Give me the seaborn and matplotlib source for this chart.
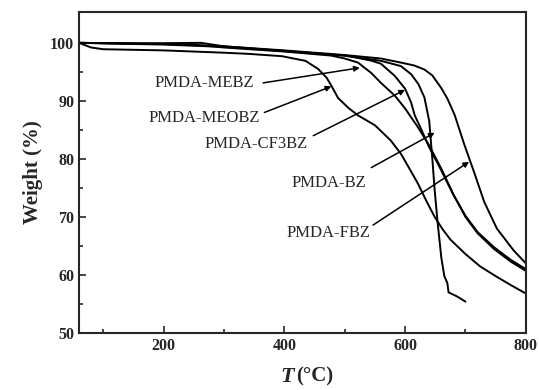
import pandas as pd
import matplotlib
matplotlib.use("Agg")
import matplotlib.pyplot as plt
import seaborn as sns

# Courbes TGA (T en °C, masse en %)
t_meobz = [60, 80, 100, 200, 300, 341, 396, 435, 456, 470, 478, 489, 506, 522, 550, 576, 593, 609, 621, 636, 649, 662, 675, 700, 724, 750, 776, 800]
w_meobz = [100, 99.2, 98.9, 98.7, 98.3, 98.1, 97.7, 96.9, 95.5, 94.0, 92.6, 90.5, 88.8, 87.5, 85.8, 83.2, 80.9, 78.0, 75.8, 72.6, 70.0, 67.9, 66.1, 63.6, 61.5, 59.8, 58.2, 56.8]

t_mebz = [60, 150, 250, 300, 400, 478, 500, 522, 544, 560, 583, 600, 621, 640, 660, 680, 700, 720, 747, 775, 800]
w_mebz = [100, 99.9, 99.7, 99.2, 98.5, 97.8, 97.3, 96.6, 94.8, 93.1, 90.9, 88.7, 85.5, 82.3, 78.3, 73.9, 70.0, 67.2, 64.5, 62.3, 60.7]

t_cf3bz = [60, 150, 262, 300, 400, 500, 522, 545, 560, 583, 600, 610, 616, 625, 640, 660, 680, 700, 720, 747, 775, 800]
w_cf3bz = [100, 99.9, 100.0, 99.4, 98.6, 97.8, 97.4, 96.9, 96.4, 94.3, 92.1, 89.7, 87.5, 85.5, 82.0, 78.0, 73.8, 70.2, 67.4, 64.8, 62.6, 61.0]

t_bz = [60, 200, 300, 400, 500, 560, 593, 610, 622, 632, 640, 645, 649, 654, 660, 665, 670, 672, 686, 700]
w_bz = [100, 99.7, 99.3, 98.6, 97.8, 96.9, 96.0, 94.6, 92.9, 90.6, 86.5, 80.2, 74.6, 68.9, 63.0, 59.8, 58.6, 57.0, 56.3, 55.4]

t_fbz = [60, 200, 300, 400, 500, 560, 593, 615, 632, 645, 660, 670, 682, 698, 715, 731, 752, 780, 800]
w_fbz = [100, 99.8, 99.4, 98.7, 97.9, 97.3, 96.6, 96.1, 95.4, 94.4, 92.2, 90.4, 87.6, 82.5, 77.5, 72.6, 68.0, 64.2, 62.0]

echantillons = ["PMDA-MEOBZ", "PMDA-MEBZ", "PMDA-CF3BZ", "PMDA-BZ", "PMDA-FBZ"]
temps = [t_meobz, t_mebz, t_cf3bz, t_bz, t_fbz]
masses = [w_meobz, w_mebz, w_cf3bz, w_bz, w_fbz]

# position des étiquettes, départ et pointe des flèches (coordonnées des données)
pos_texte = [(267, 87.1), (267, 93.1), (353, 82.6), (473, 75.9), (473, 67.2)]
depart_fleche = [(367, 88.0), (365, 93.1), (448, 84.0), (544, 78.5), (547, 68.6)]
pointe_fleche = [(478, 92.5), (525, 95.7), (600, 91.9), (649, 84.5), (706, 79.5)]

df = pd.concat([pd.DataFrame({"T": t, "W": w, "echantillon": nom})
                for nom, t, w in zip(echantillons, temps, masses)])

sns.set_style("ticks")
plt.rcParams["font.family"] = ["Liberation Serif", "DejaVu Serif"]

fig = plt.figure(figsize=(5.39, 3.90), dpi=100)
ax = fig.add_axes([0.1466, 0.1462, 0.8290, 0.8228])

sns.lineplot(data=df, x="T", y="W", hue="echantillon", palette=["black"] * 5,
             estimator=None, sort=False, legend=False, linewidth=1.4, ax=ax)
for ln in ax.get_lines():
    ln.set_solid_joinstyle("round")

for nom, (tx, ty), (sx, sy), (px, py) in zip(echantillons, pos_texte, depart_fleche, pointe_fleche):
    ax.text(tx, ty, nom, ha="center", va="center", fontsize=12)
    ax.annotate("", xy=(px, py), xytext=(sx, sy),
                arrowprops=dict(arrowstyle="-|>", color="black", lw=1.1,
                                mutation_scale=8, shrinkA=0, shrinkB=0))

ax.set_xlim(60, 800)
ax.set_ylim(50, 105.3)
ax.set_xticks([200, 400, 600, 800])
ax.set_xticks([100, 300, 500, 700], minor=True)
ax.set_yticks([50, 60, 70, 80, 90, 100])
ax.set_yticks([55, 65, 75, 85, 95], minor=True)
ax.tick_params(which="both", direction="in", width=1.2)
ax.tick_params(which="major", length=5, labelsize=11.5)
ax.tick_params(which="minor", length=3)
for lab in ax.get_xticklabels() + ax.get_yticklabels():
    lab.set_fontweight("bold")
for sp in ax.spines.values():
    sp.set_linewidth(1.5)
    sp.set_visible(True)

ax.set_ylabel("Weight (%)", fontsize=15, fontweight="bold", labelpad=5)
ax.set_xlabel("")
fig.text(0.545, 0.008, "T", fontsize=16, fontweight="bold", fontstyle="italic", ha="right", va="bottom")
fig.text(0.549, 0.008, "(°C)", fontsize=15, fontweight="bold", ha="left", va="bottom")

fig.savefig("out.png", dpi=100)
